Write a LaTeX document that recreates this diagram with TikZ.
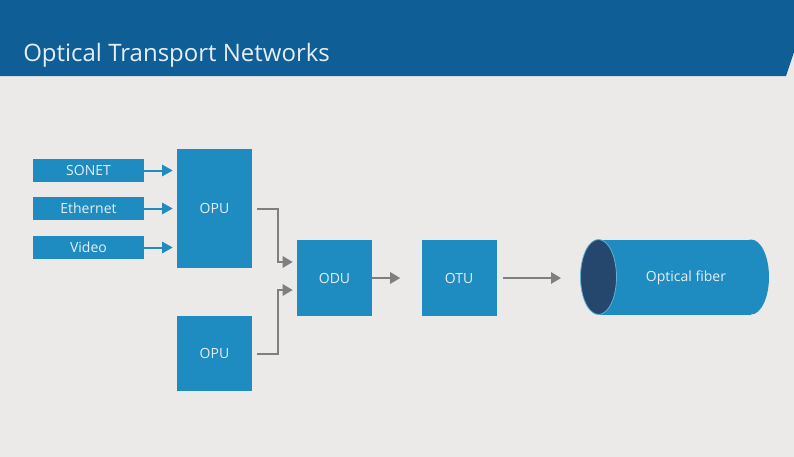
\documentclass[tikz,border=0pt]{standalone}
\usepackage{fontspec}
\setmainfont{Open Sans}
\usetikzlibrary{arrows.meta,calc}
\definecolor{bgc}{HTML}{ECEAE8}
\definecolor{hdr}{HTML}{0F5F96}
\definecolor{boxc}{HTML}{1E8CC0}
\definecolor{darkend}{HTML}{25476E}
\definecolor{arrg}{HTML}{7F7F7F}
\definecolor{txtc}{HTML}{E6EEF3}
\tikzset{
  bluebox/.style={fill=boxc, draw=none, inner sep=0pt, text=txtc, font=\fontsize{10.5}{12}\selectfont, align=center},
  inbox/.style={bluebox, minimum width=83.25pt, minimum height=17.25pt},
  sqbox/.style={bluebox, minimum width=56.25pt, minimum height=57pt},
  bluearrow/.style={draw=boxc, line width=1.5pt, -{Triangle[length=8pt,width=8.5pt]}, shorten >=3pt},
  grayarrow/.style={draw=arrg, line width=1.5pt, -{Triangle[length=7.5pt,width=8.5pt]}}
}
\begin{document}
\begin{tikzpicture}[x=0.75pt,y=-0.75pt]
\fill[bgc] (0,0) rectangle (794,457);
\useasboundingbox (0,0) rectangle (794,457);
\fill[hdr] (0,0) -- (794,0) -- (794,52) -- (786,76) -- (0,76) -- cycle;
\node[anchor=base west, text=txtc, font=\fontsize{18}{22}\selectfont, inner sep=0pt] (title) at (23,61) {Optical Transport Networks};

\node[inbox] (sonet) at (88.5,170.5) {SONET};
\node[inbox] (eth) at (88.5,208.5) {Ethernet};
\node[inbox] (video) at (88.5,247.5) {Video};

\node[bluebox, minimum width=56.25pt, minimum height=89.25pt] (opu1) at (214.5,208.5) {OPU};
\node[sqbox, minimum height=56.25pt] (opu2) at (214.5,353.5) {OPU};
\node[sqbox] (odu) at (334.5,278) {ODU};
\node[sqbox] (otu) at (459,278) {OTU};

% optical fiber cylinder
\fill[boxc] (751,277) ellipse [x radius=18, y radius=37.5];
\fill[boxc] (598,239.5) rectangle (751,314.5);
\draw[fill=darkend, draw=boxc!70!white, line width=0.6pt] (598.5,277) ellipse [x radius=18, y radius=37.5];
\node[text=txtc, font=\fontsize{10.5}{12}\selectfont, inner sep=0pt] (fiber) at (686,278) {Optical fiber};
\coordinate (fiberin) at (561,278);

\draw[bluearrow] (sonet.east) -- (sonet.east -| opu1.west);
\draw[bluearrow] (eth.east) -- (eth.east -| opu1.west);
\draw[bluearrow] (video.east) -- (video.east -| opu1.west);

\draw[grayarrow, shorten >=3pt] ($(opu1.east)+(5,0)$) -- ($(opu1.east)+(26,0)$) |- ($(odu.west)+(0,-16)$);
\draw[grayarrow, shorten >=3pt] ($(opu2.east)+(5,0)$) -- ($(opu2.east)+(26,0)$) |- ($(odu.west)+(0,12)$);
\draw[grayarrow, shorten >=15.75pt] (odu.east) -- (otu.west);
\draw[grayarrow, shorten <=4.5pt] (otu.east) -- (fiberin);
\end{tikzpicture}
\end{document}
